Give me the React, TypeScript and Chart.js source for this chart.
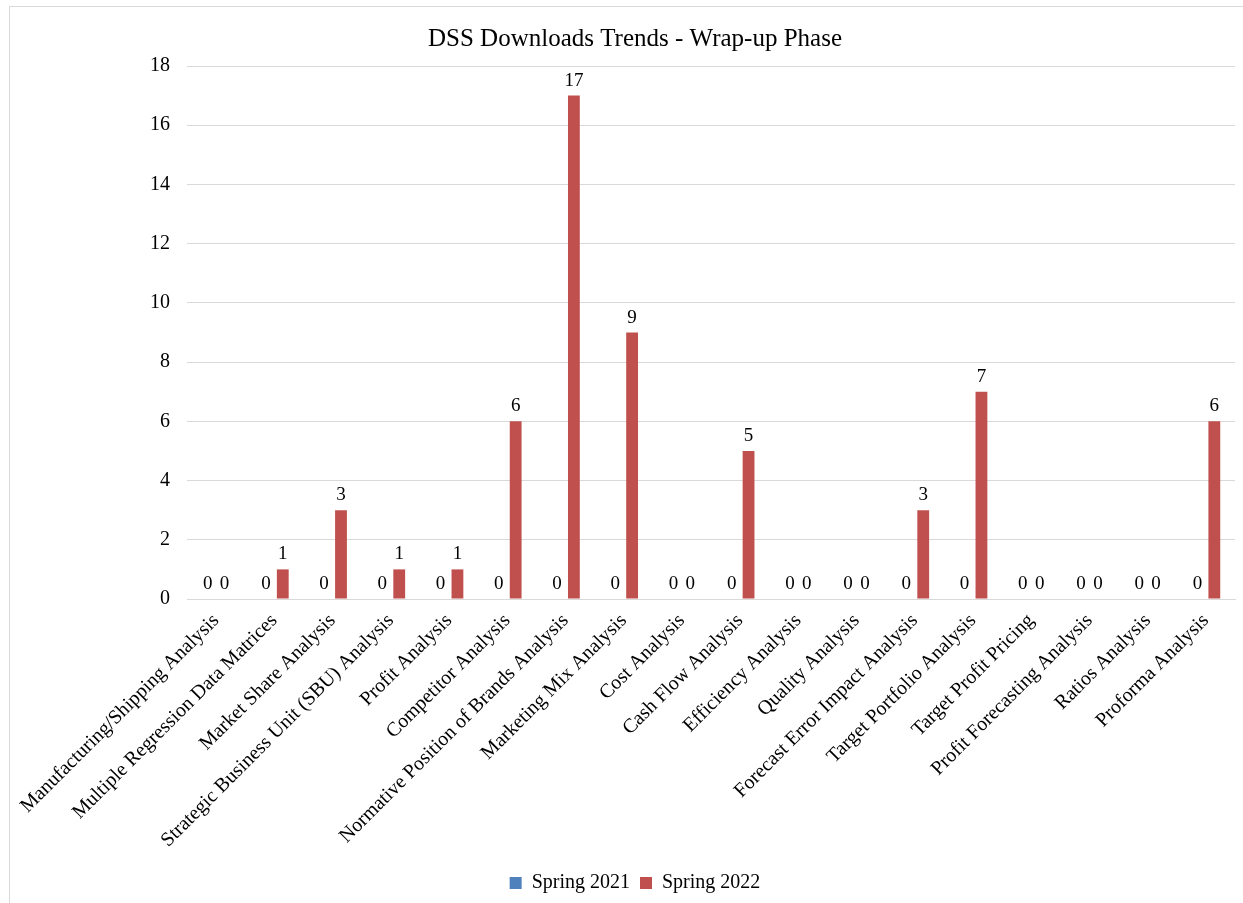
import React, { useEffect, useRef } from "react";
import { Chart, registerables } from "chart.js";

Chart.register(...registerables);

const categories = [
  "Manufacturing/Shipping Analysis",
  "Multiple Regression Data Matrices",
  "Market Share Analysis",
  "Strategic Business Unit (SBU) Analysis",
  "Profit Analysis",
  "Competitor Analysis",
  "Normative Position of Brands Analysis",
  "Marketing Mix Analysis",
  "Cost Analysis",
  "Cash Flow Analysis",
  "Efficiency Analysis",
  "Quality Analysis",
  "Forecast Error Impact Analysis",
  "Target Portfolio Analysis",
  "Target Profit Pricing",
  "Profit Forecasting Analysis",
  "Ratios Analysis",
  "Proforma Analysis",
];

const spring2021 = [0, 0, 0, 0, 0, 0, 0, 0, 0, 0, 0, 0, 0, 0, 0, 0, 0, 0];
const spring2022 = [0, 1, 3, 1, 1, 6, 17, 9, 0, 5, 0, 0, 3, 7, 0, 0, 0, 6];

const yTicks = [0, 2, 4, 6, 8, 10, 12, 14, 16, 18];

const FONT = "'Liberation Serif', 'Times New Roman', serif";

const dataLabels = {
  id: "dataLabels",
  afterDatasetsDraw(chart: any) {
    const ctx = chart.ctx;
    ctx.save();
    ctx.font = `19px ${FONT}`;
    ctx.fillStyle = "#000";
    ctx.textAlign = "center";
    ctx.textBaseline = "alphabetic";
    chart.data.datasets.forEach((ds: any, i: number) => {
      const meta = chart.getDatasetMeta(i);
      meta.data.forEach((bar: any, j: number) => {
        ctx.fillText(String(ds.data[j]), bar.x, bar.y - 10);
      });
    });
    ctx.restore();
  },
};

export default function App() {
  const ref = useRef<HTMLCanvasElement>(null);

  useEffect(() => {
    document.body.style.margin = "0";
    const chart = new Chart(ref.current!, {
      type: "bar",
      data: {
        labels: categories,
        datasets: [
          {
            label: "Spring 2021",
            data: spring2021,
            backgroundColor: "#4F81BD",
            barPercentage: 0.7,
            categoryPercentage: 0.58,
          },
          {
            label: "Spring 2022",
            data: spring2022,
            backgroundColor: "#C0504D",
            barPercentage: 0.7,
            categoryPercentage: 0.58,
          },
        ],
      },
      options: {
        responsive: false,
        animation: false,
        layout: { padding: { left: 35, right: 8, top: 0, bottom: 0 } },
        plugins: {
          title: {
            display: true,
            text: "DSS Downloads Trends - Wrap-up Phase",
            color: "#000",
            font: { family: FONT, size: 25, weight: "normal" },
            padding: { top: 24, bottom: 12 },
          },
          legend: {
            position: "bottom",
            labels: {
              color: "#000",
              font: { family: FONT, size: 20 },
              boxWidth: 12,
              boxHeight: 12,
              padding: 10,
            },
          },
          tooltip: { enabled: false },
        },
        scales: {
          x: {
            grid: { display: false, drawTicks: false },
            border: { color: "#d9d9d9", width: 1 },
            ticks: {
              color: "#000",
              font: { family: FONT, size: 20 },
              maxRotation: 45,
              minRotation: 45,
              autoSkip: false,
              padding: 10,
            },
            afterFit(scale: any) {
              scale.height = 264;
            },
          },
          y: {
            min: 0,
            max: 18,
            afterBuildTicks(scale: any) {
              scale.ticks = yTicks.map((v) => ({ value: v }));
            },
            grid: { color: "#d9d9d9", drawTicks: false },
            border: { display: false },
            ticks: {
              color: "#000",
              font: { family: FONT, size: 20 },
              padding: 17,
            },
            afterFit(scale: any) {
              scale.width = 152;
            },
          },
        },
      },
      plugins: [dataLabels],
    });
    return () => chart.destroy();
  }, []);

  return (
    <div style={{ position: "relative", width: 1243, height: 903 }}>
      <div
        style={{
          position: "absolute",
          left: 9,
          top: 6,
          width: 1250,
          height: 910,
          borderLeft: "1px solid #d9d9d9",
          borderTop: "1px solid #d9d9d9",
          boxSizing: "border-box",
        }}
      />
      <canvas ref={ref} width={1243} height={903} style={{ position: "absolute", left: 0, top: 0 }} />
    </div>
  );
}
